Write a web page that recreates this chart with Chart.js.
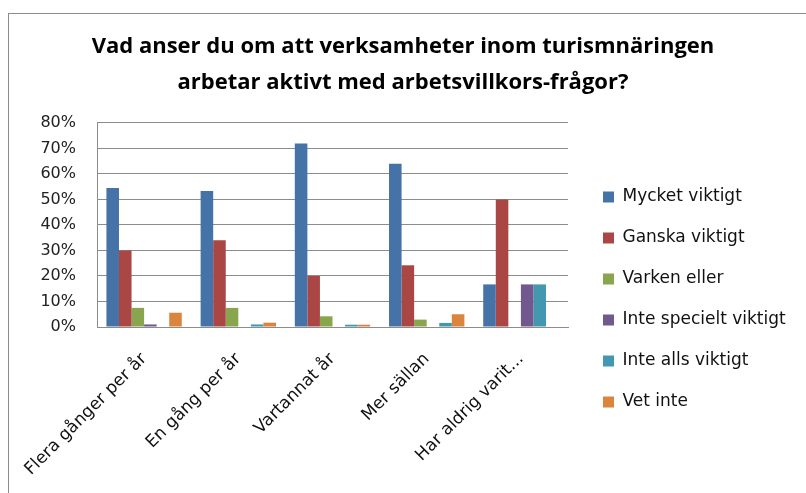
<!DOCTYPE html>
<html>
<head>
<meta charset="utf-8">
<script src="https://cdn.jsdelivr.net/npm/chart.js@4"></script>
<style>
  html, body { margin: 0; padding: 0; background: #fff; }
  canvas { display: block; }
</style>
</head>
<body>
<canvas id="c" width="806" height="493"></canvas>
<script>
const titleLines = [
  'Vad anser du om att verksamheter inom turismnäringen',
  'arbetar aktivt med arbetsvillkors-frågor?'
];
const categories = ['Flera gånger per år', 'En gång per år', 'Vartannat år', 'Mer sällan', 'Har aldrig varit...'];
const seriesNames = ['Mycket viktigt', 'Ganska viktigt', 'Varken eller', 'Inte specielt viktigt', 'Inte alls viktigt', 'Vet inte'];
const mycketViktigt   = [54.5, 53.3, 72.0, 64.0, 16.7];
const ganskaViktigt   = [30.0, 34.0, 20.0, 24.2, 50.0];
const varkenEller     = [7.5, 7.5, 4.2, 2.9, 0];
const inteSpecielt    = [1.0, 0, 0, 0, 16.7];
const inteAlls        = [0, 1.0, 0.9, 1.6, 16.7];
const vetInte         = [5.6, 1.7, 0.9, 5.0, 0];
const yTicks = [0, 10, 20, 30, 40, 50, 60, 70, 80];
const colors = ['#4572A7', '#AA4643', '#89A54E', '#71588F', '#4198AF', '#DB843D'];

const seriesValues = [mycketViktigt, ganskaViktigt, varkenEller, inteSpecielt, inteAlls, vetInte];

const PLOT_RIGHT = 568;

const frame = {
  id: 'frame',
  beforeUpdate(chart) {
    const lg = chart.legend;
    if (lg && !lg._patched) {
      const origFit = lg.fit;
      lg.fit = function () {
        origFit.call(this);
        this.width = chart.width - PLOT_RIGHT;
      };
      lg._patched = true;
    }
  },
  afterLayout(chart) {
    const lg = chart.legend;
    if (lg) {
      lg.left += 11;
      lg.right += 11;
      lg.top = 102;
      lg.bottom = 497;
    }
  },
  beforeDraw(chart) {
    const ctx = chart.ctx;
    ctx.save();
    ctx.fillStyle = '#fff';
    ctx.fillRect(0, 0, chart.width, chart.height);
    ctx.strokeStyle = '#8c8c8c';
    ctx.lineWidth = 1;
    ctx.strokeRect(8.5, 13.5, chart.width + 20, chart.height + 20);
    ctx.restore();
  }
};

new Chart(document.getElementById('c'), {
  type: 'bar',
  data: {
    labels: categories,
    datasets: seriesNames.map((name, i) => ({
      label: name,
      data: seriesValues[i],
      backgroundColor: colors[i],
      borderWidth: 0,
      categoryPercentage: 0.8,
      barPercentage: 1.0
    }))
  },
  options: {
    responsive: false,
    animation: false,
    devicePixelRatio: 1,
    layout: { autoPadding: false, padding: { left: 0, right: 0, top: 0, bottom: 0 } },
    plugins: {
      title: {
        display: true,
        text: titleLines,
        color: '#000',
        font: { family: '"Open Sans"', weight: 'bold', size: 22, lineHeight: 1.636 },
        padding: { top: 29, bottom: 22 }
      },
      legend: {
        display: true,
        position: 'right',
        labels: {
          boxWidth: 11,
          boxHeight: 11,
          padding: 24,
          color: '#111',
          font: { family: '"DejaVu Sans"', size: 17 }
        }
      },
      tooltip: { enabled: false }
    },
    scales: {
      x: {
        grid: { display: false, drawTicks: false },
        border: { display: true, color: '#8c8c8c', width: 1 },
        ticks: {
          maxRotation: 45,
          minRotation: 45,
          color: '#111',
          padding: 22,
          font: { family: '"DejaVu Sans"', size: 17 }
        },
        afterFit(scale) {
          scale.height = 166;
          scale.paddingLeft = 0;
          scale.paddingRight = 0;
        }
      },
      y: {
        min: 0,
        max: 80,
        afterBuildTicks(scale) { scale.ticks = yTicks.map(v => ({ value: v })); },
        grid: { color: '#8c8c8c', lineWidth: 1, drawTicks: false },
        border: { display: true, color: '#8c8c8c', width: 1 },
        ticks: {
          padding: 21,
          color: '#222',
          font: { family: '"DejaVu Sans"', size: 16 },
          callback: v => v + '%'
        },
        afterFit(scale) { scale.width = 97; }
      }
    }
  },
  plugins: [frame]
});
</script>
</body>
</html>
